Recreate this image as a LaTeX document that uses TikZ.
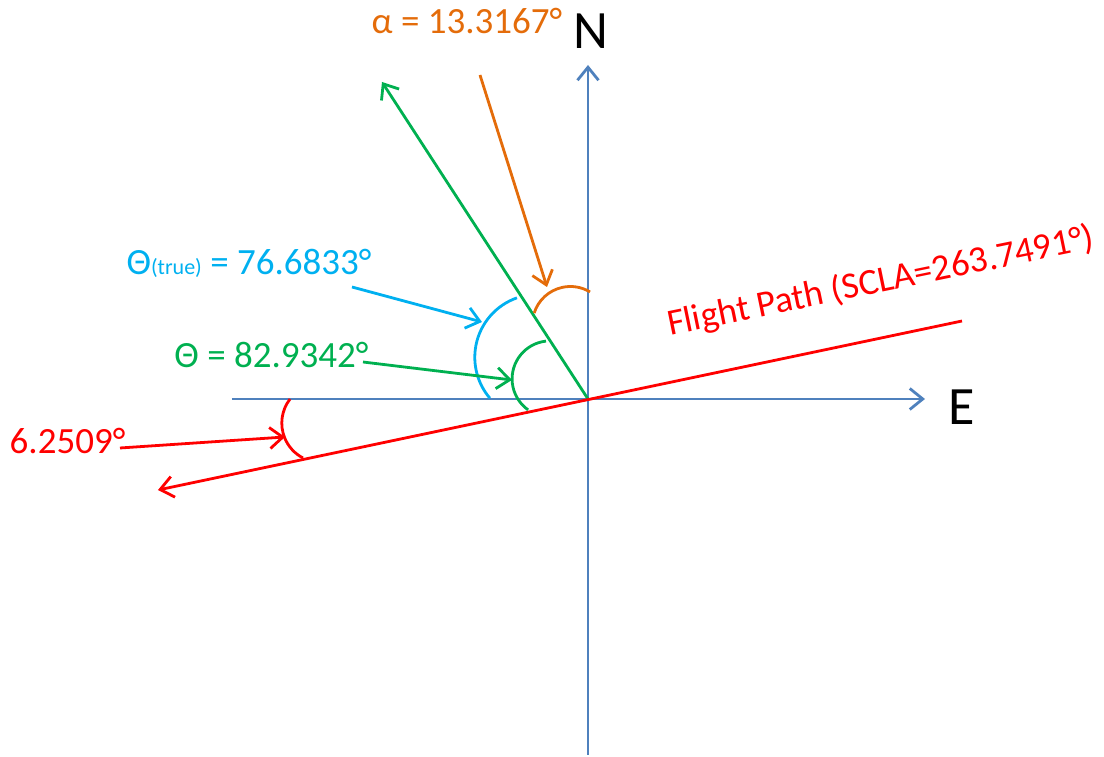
\documentclass[tikz,border=0pt]{standalone}
\usepackage{fontspec}
\setmainfont{Carlito}
\usetikzlibrary{arrows.meta}

\definecolor{axisblue}{HTML}{4F81BD}
\definecolor{pathgreen}{HTML}{00B050}
\definecolor{lightblue}{HTML}{00B0F0}
\definecolor{alphaorange}{HTML}{E46C0A}

\begin{document}
\begin{tikzpicture}[x=1pt, y=1pt, line width=2.8pt,
    tip/.style={-{Straight Barb[length=13pt,width=21pt]}},
    lbl/.style={anchor=base, inner sep=0pt, font=\fontsize{37}{40}\selectfont},
    axislbl/.style={anchor=base, inner sep=0pt, font=\fontsize{54}{58}\selectfont}]

    % Page size
    \useasboundingbox (-588,-358) rectangle (516,399);

    % Define points of the axes and lines
    \coordinate (O) at (0,0);
    \coordinate (S) at (0,-356);
    \coordinate (Ntip) at (0,334);
    \coordinate (W) at (-356,0);
    \coordinate (Etip) at (337,0);
    \coordinate (G) at (-206,317);
    \coordinate (F1) at (374,78);
    \coordinate (F2) at (-430,-91);

    % Centres of the angle arcs
    \coordinate (ca) at (-17.6,74.5);
    \coordinate (ct) at (-50.2,41.7);
    \coordinate (cg) at (-37.9,20.1);
    \coordinate (cd) at (-266.9,-24.1);

    % Start and end of the pointers
    \coordinate (pa1) at (-108,324);
    \coordinate (pa2) at (-41,112);
    \coordinate (pt1) at (-236,112);
    \coordinate (pt2) at (-106,77);
    \coordinate (pg1) at (-225,37);
    \coordinate (pg2) at (-76,19);
    \coordinate (pd1) at (-468,-49);
    \coordinate (pd2) at (-303,-38);

    % Draw axes
    \draw[axisblue, tip] (S) -- (Ntip);
    \draw[axisblue, tip] (W) -- (Etip);

    % Draw green line and flight path
    \draw[pathgreen, tip] (O) -- (G);
    \draw[red, tip] (F1) -- (F2);

    % Draw angle arcs
    \draw[alphaorange] ([shift={(162.5:38)}]ca) arc[start angle=162.5, end angle=58.9, radius=38];
    \draw[lightblue] ([shift={(109.3:63)}]ct) arc[start angle=109.3, end angle=220.4, radius=63];
    \draw[pathgreen] ([shift={(96.2:38)}]cg) arc[start angle=96.2, end angle=234.6, radius=38];
    \draw[red] ([shift={(142.2:39.3)}]cd) arc[start angle=142.2, end angle=242.6, radius=39.3];

    % Draw pointers
    \draw[alphaorange, tip] (pa1) -- (pa2);
    \draw[lightblue, tip] (pt1) -- (pt2);
    \draw[pathgreen, tip] (pg1) -- (pg2);
    \draw[red, tip] (pd1) -- (pd2);

    % Labels
    \node[axislbl] (N) at (3,350) {N};
    \node[axislbl] (E) at (374,-26) {E};
    \node[lbl, text=alphaorange] (alpha) at (-121,365) {α = 13.3167°};
    \node[lbl, text=lightblue] (thetatrue) at (-339,124) {Θ{\fontsize{22}{24}\selectfont(true)} = 76.6833°};
    \node[lbl, text=pathgreen] (theta) at (-316.5,31) {Θ = 82.9342°};
    \node[lbl, text=red] (dev) at (-520.5,-55) {6.2509°};
    \node[lbl, text=red, rotate=11.6] (flight) at (295,107) {Flight Path (SCLA=263.7491°)};
\end{tikzpicture}
\end{document}
